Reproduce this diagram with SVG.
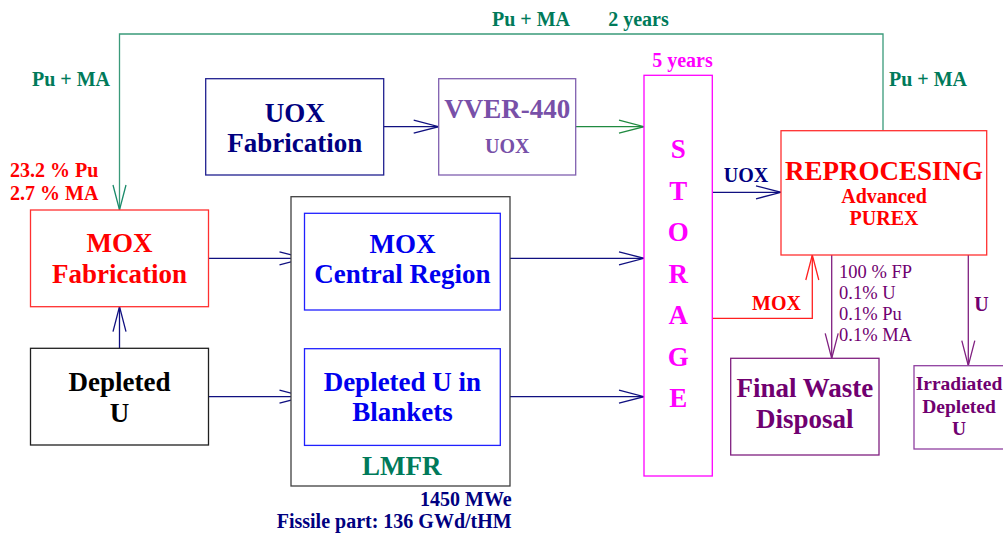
<svg xmlns="http://www.w3.org/2000/svg" width="1003" height="533" viewBox="0 0 1003 533">
<style>
text{font-family:"Liberation Serif","Times New Roman",serif;font-weight:bold;text-anchor:middle}
.box{fill:#fff;stroke-width:1.3}
.ln{fill:none;stroke-width:1.3}
.b27{font-size:27px}
.b20{font-size:20px}
.navy{fill:#000080}
.red{fill:#ff0000}
.teal{fill:#007a5a}
.mag{fill:#ff00ff}
.blue{fill:#0000ee}
.pur{fill:#700070}
.vv{fill:#7850a8}
.norm{font-weight:normal;font-size:18.5px;text-anchor:start}
</style>
<defs>
<marker id="aNavy" markerUnits="userSpaceOnUse" markerWidth="30" markerHeight="16" refX="25" refY="7" orient="auto" overflow="visible"><path d="M0,0.5 L25,7 L0,13.5" fill="none" stroke="#101080" stroke-width="1.3"/></marker>
<marker id="aGreen" markerUnits="userSpaceOnUse" markerWidth="30" markerHeight="16" refX="25" refY="7" orient="auto" overflow="visible"><path d="M0,0.5 L25,7 L0,13.5" fill="none" stroke="#208a40" stroke-width="1.3"/></marker>
<marker id="aTeal" markerUnits="userSpaceOnUse" markerWidth="30" markerHeight="16" refX="25" refY="7" orient="auto" overflow="visible"><path d="M0,0.5 L25,7 L0,13.5" fill="none" stroke="#1a8a6a" stroke-width="1.3"/></marker>
<marker id="aRed" markerUnits="userSpaceOnUse" markerWidth="30" markerHeight="16" refX="25" refY="7" orient="auto" overflow="visible"><path d="M0,0.5 L25,7 L0,13.5" fill="none" stroke="#ff2020" stroke-width="1.3"/></marker>
<marker id="aPur" markerUnits="userSpaceOnUse" markerWidth="30" markerHeight="16" refX="25" refY="7" orient="auto" overflow="visible"><path d="M0,0.5 L25,7 L0,13.5" fill="none" stroke="#802080" stroke-width="1.3"/></marker>
</defs>
<rect width="1003" height="533" fill="#fff"/>

<g id="connectors">
<path class="ln" stroke="#3a9a7a" d="M883,130.7 V34 H119.5 V210" marker-end="url(#aTeal)"/>
<path class="ln" stroke="#101080" d="M119.5,348.3 V306.7" marker-end="url(#aNavy)"/>
<path class="ln" stroke="#101080" d="M208.5,258.3 H304.5" marker-end="url(#aNavy)"/>
<path class="ln" stroke="#101080" d="M208.5,396.7 H304.5" marker-end="url(#aNavy)"/>
<path class="ln" stroke="#101080" d="M500.3,258.3 H644" marker-end="url(#aNavy)"/>
<path class="ln" stroke="#101080" d="M500.3,396.7 H644" marker-end="url(#aNavy)"/>
<path class="ln" stroke="#101080" d="M383.7,126.7 H438.7" marker-end="url(#aNavy)"/>
<path class="ln" stroke="#208a40" d="M575.7,126.7 H644" marker-end="url(#aGreen)"/>
<path class="ln" stroke="#101080" d="M712.3,192.3 H781" marker-end="url(#aNavy)"/>
<path class="ln" stroke="#ff2020" d="M712.3,318.3 H812.3 V255" marker-end="url(#aRed)"/>
<path class="ln" stroke="#802080" d="M831.7,255 V358.3" marker-end="url(#aPur)"/>
<path class="ln" stroke="#802080" d="M968.3,255 V365.7" marker-end="url(#aPur)"/>
</g>

<g id="labels">
<text class="b20 teal" x="71" y="86">Pu + MA</text>
<text class="b20 teal" x="531" y="26">Pu + MA</text>
<text class="b20 teal" x="638.5" y="26">2 years</text>
<text class="b20 teal" x="928" y="86">Pu + MA</text>
<text class="b20 red" x="10" y="177" style="text-anchor:start">23.2 % Pu</text>
<text class="b20 red" x="10" y="200" style="text-anchor:start">2.7 % MA</text>
<text class="b20 mag" x="682.5" y="67">5 years</text>
<text class="b20 navy" x="746" y="181.7">UOX</text>
<text class="b20 red" x="776.5" y="310">MOX</text>
<text class="b20 pur" x="981.5" y="311">U</text>
<g class="pur">
<text class="norm" x="839" y="277.5">100 % FP</text>
<text class="norm" x="839" y="298.5">0.1% U</text>
<text class="norm" x="839" y="319.5">0.1% Pu</text>
<text class="norm" x="839" y="340.5">0.1% MA</text>
</g>
</g>

<g id="uox-fabrication">
<rect class="box" x="205.7" y="78.7" width="178" height="96.3" stroke="#202090"/>
<text class="b27 navy" x="294.7" y="121.7">UOX</text>
<text class="b27 navy" x="294.7" y="151.7">Fabrication</text>
</g>

<g id="vver-440">
<rect class="box" x="438.7" y="78.7" width="137" height="96.3" stroke="#8060b0"/>
<text class="b27 vv" x="507.2" y="118.3">VVER-440</text>
<text class="b20 vv" x="507.2" y="152.7">UOX</text>
</g>

<g id="mox-fabrication">
<rect class="box" x="30.5" y="210" width="178" height="96.7" stroke="#ff3030"/>
<text class="b27 red" x="119.5" y="251.7">MOX</text>
<text class="b27 red" x="119.5" y="282.7">Fabrication</text>
</g>

<g id="depleted-u">
<rect class="box" x="30.5" y="348.3" width="178" height="96.7" stroke="#202020"/>
<text class="b27" x="119.5" y="391" fill="#000">Depleted</text>
<text class="b27" x="119.5" y="421.7" fill="#000">U</text>
</g>

<g id="lmfr">
<rect class="box" x="291" y="196.7" width="219" height="289.3" stroke="#404040"/>
<text class="b27 teal" x="401.7" y="475">LMFR</text>
<text class="b20 navy" x="511.7" y="506" style="text-anchor:end">1450 MWe</text>
<text class="b20 navy" x="511.7" y="528" style="text-anchor:end">Fissile part: 136 GWd/tHM</text>
</g>

<g id="mox-central">
<rect class="box" x="304.5" y="213.3" width="195.8" height="96.7" stroke="#2020ff"/>
<text class="b27 blue" x="402.4" y="252.7">MOX</text>
<text class="b27 blue" x="402.4" y="282.7">Central Region</text>
</g>

<g id="blankets">
<rect class="box" x="304.5" y="348.7" width="195.8" height="96.7" stroke="#2020ff"/>
<text class="b27 blue" x="402.4" y="390.7">Depleted U in</text>
<text class="b27 blue" x="402.4" y="420.7">Blankets</text>
</g>

<g id="storage">
<rect class="box" x="644" y="75.3" width="68.3" height="400.7" stroke="#ff00ff"/>
<g class="b27 mag">
<text x="678.2" y="158">S</text>
<text x="678.2" y="199.5">T</text>
<text x="678.2" y="241">O</text>
<text x="678.2" y="282.5">R</text>
<text x="678.2" y="324">A</text>
<text x="678.2" y="365.5">G</text>
<text x="678.2" y="407">E</text>
</g>
</g>

<g id="reprocessing">
<rect class="box" x="781" y="130.7" width="205.7" height="124.3" stroke="#ff3030"/>
<text class="b27 red" x="884" y="180">REPROCESING</text>
<text class="b20 red" x="884" y="202.7">Advanced</text>
<text class="b20 red" x="884" y="225">PUREX</text>
</g>

<g id="final-waste">
<rect class="box" x="730.7" y="358.3" width="148.3" height="96.7" stroke="#802080"/>
<text class="b27 pur" x="804.8" y="396.7">Final Waste</text>
<text class="b27 pur" x="804.8" y="428.3">Disposal</text>
</g>

<g id="irradiated-depleted-u">
<rect class="box" x="914" y="365.7" width="110" height="83.3" stroke="#9040a0"/>
<text class="pur" style="font-size:19.5px" x="959" y="390">Irradiated</text>
<text class="pur" style="font-size:19.5px" x="959" y="412.7">Depleted</text>
<text class="pur" style="font-size:19.5px" x="959" y="435">U</text>
</g>
</svg>
